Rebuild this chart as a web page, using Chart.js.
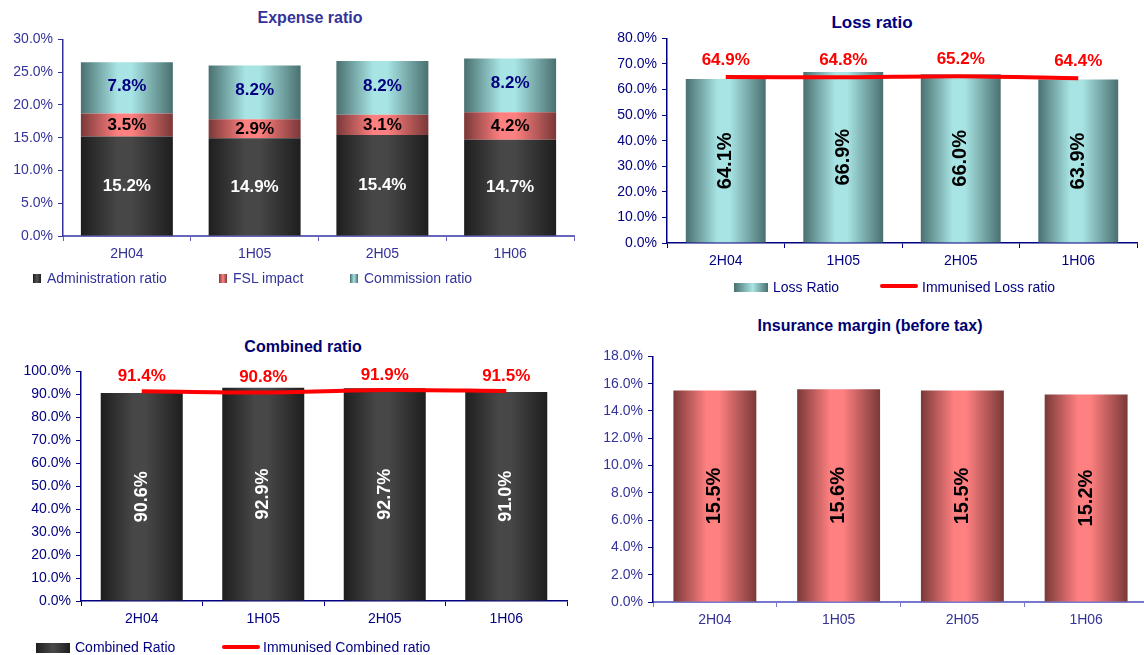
<!DOCTYPE html>
<html>
<head>
<meta charset="utf-8">
<script src="https://cdn.jsdelivr.net/npm/chart.js@4.4.1/dist/chart.umd.min.js"></script>
<style>
  body { margin: 0; width: 1144px; height: 655px; overflow: hidden; background: #fff; position: relative;
         font-family: 'Liberation Sans', Arial, sans-serif; }
  canvas { position: absolute; }
  .title { position: absolute; font-weight: bold; white-space: nowrap; line-height: 1; transform: translate(-50%, -50%); }
  .leg { position: absolute; white-space: nowrap; }
  .sw { position: absolute; }
</style>
</head>
<body>

<div class="title" style="left:310px; top:18px; font-size:16px; color:#333399">Expense ratio</div>
<div class="title" style="left:872px; top:22px; font-size:17px; color:#000080">Loss ratio</div>
<div class="title" style="left:303px; top:347px; font-size:16px; color:#000070">Combined ratio</div>
<div class="title" style="left:870px; top:326px; font-size:16px; color:#000070">Insurance margin (before tax)</div>

<canvas id="expense" width="580" height="250" style="left:0; top:26px"></canvas>
<canvas id="loss" width="564" height="258" style="left:580px; top:25px"></canvas>
<canvas id="combined" width="580" height="283" style="left:0; top:358px"></canvas>
<canvas id="margin" width="568" height="299" style="left:580px; top:343px"></canvas>

<!-- legends -->
<div class="sw" style="left:33px; top:274px; width:8px; height:9px; background:linear-gradient(to right,#1e1e1e,#555,#1e1e1e)"></div>
<div class="leg" style="left:47px; top:270px; font-size:14px; line-height:16px; color:#333399">Administration ratio</div>
<div class="sw" style="left:219px; top:274px; width:8px; height:9px; background:linear-gradient(to right,#7a3a3a,#ff8080,#7a3a3a)"></div>
<div class="leg" style="left:233px; top:270px; font-size:14px; line-height:16px; color:#333399">FSL impact</div>
<div class="sw" style="left:350px; top:274px; width:8px; height:9px; background:linear-gradient(to right,#4a7070,#a8e4e4,#4a7070)"></div>
<div class="leg" style="left:364px; top:270px; font-size:14px; line-height:16px; color:#333399">Commission ratio</div>

<div class="sw" style="left:734px; top:283px; width:34px; height:9px; background:linear-gradient(to right,#4a7070,#a8e4e4 55%,#4a7070)"></div>
<div class="leg" style="left:773px; top:279px; font-size:14px; line-height:16px; color:#000080">Loss Ratio</div>
<div class="sw" style="left:880px; top:284px; width:38px; height:4px; border-radius:2px; background:#ff0000"></div>
<div class="leg" style="left:922px; top:279px; font-size:14px; line-height:16px; color:#000080">Immunised Loss ratio</div>

<div class="sw" style="left:36px; top:643px; width:34px; height:10px; background:linear-gradient(to right,#1e1e1e,#4a4a4a 50%,#1e1e1e)"></div>
<div class="leg" style="left:75px; top:639px; font-size:14px; line-height:16px; color:#000080">Combined Ratio</div>
<div class="sw" style="left:222px; top:645px; width:38px; height:4px; border-radius:2px; background:#ff0000"></div>
<div class="leg" style="left:263px; top:639px; font-size:14px; line-height:16px; color:#000080">Immunised Combined ratio</div>

<script>
const categories = ['2H04', '1H05', '2H05', '1H06'];

const adminRatio = [15.2, 14.9, 15.4, 14.7];
const fslImpact = [3.5, 2.9, 3.1, 4.2];
const commissionRatio = [7.8, 8.2, 8.2, 8.2];

const lossRatio = [64.1, 66.9, 66.0, 63.9];
const immunisedLossRatio = [64.9, 64.8, 65.2, 64.4];

const combinedRatio = [90.6, 92.9, 92.7, 91.0];
const immunisedCombinedRatio = [91.4, 90.8, 91.9, 91.5];

const insuranceMargin = [15.5, 15.6, 15.5, 15.2];

// y tick labels (percent)
const expenseTicks = [0, 5, 10, 15, 20, 25, 30];
const lossTicks = [0, 10, 20, 30, 40, 50, 60, 70, 80];
const combinedTicks = [0, 10, 20, 30, 40, 50, 60, 70, 80, 90, 100];
const marginTicks = [0, 2, 4, 6, 8, 10, 12, 14, 16, 18];

Chart.defaults.font.family = "'Liberation Sans', Arial, sans-serif";
Chart.defaults.animation = false;

// horizontal "cylinder" shading, like the old Excel bars
function cylinder(edge, mid) {
    return function (c) {
        const chart = c.chart;
        const xs = chart.scales.x;
        if (c.type !== 'data' || !xs || !chart.chartArea) return mid;
        const w = xs.width / categories.length * c.dataset.categoryPercentage * c.dataset.barPercentage;
        const cx = xs.getPixelForValue(c.dataIndex);
        const g = chart.ctx.createLinearGradient(cx - w / 2, 0, cx + w / 2, 0);
        g.addColorStop(0, edge);
        g.addColorStop(0.4, mid);
        g.addColorStop(0.55, mid);
        g.addColorStop(1, edge);
        return g;
    };
}

const valueLabels = {
    id: 'valueLabels',
    afterDatasetsDraw(chart) {
        const ctx = chart.ctx;
        chart.data.datasets.forEach((ds, i) => {
            const st = ds.valueLabel;
            if (!st) return;
            const meta = chart.getDatasetMeta(i);
            meta.data.forEach((el, j) => {
                const txt = ds.data[j].toFixed(1) + '%';
                ctx.save();
                ctx.font = st.font;
                ctx.fillStyle = st.color;
                ctx.textAlign = 'center';
                ctx.textBaseline = 'middle';
                if (meta.type === 'line') {
                    ctx.fillText(txt, el.x, el.y + st.dy);
                } else {
                    ctx.translate(el.x, (el.y + el.base) / 2 + (st.dy || 0));
                    if (st.rotate) ctx.rotate(-Math.PI / 2);
                    ctx.fillText(txt, 0, 0);
                }
                ctx.restore();
            });
        });
    }
};

function scales(o) {
    return {
        x: {
            stacked: !!o.stacked,
            grid: { drawOnChartArea: false, drawTicks: true, tickLength: 5, color: o.xAxisColor, offset: true },
            border: { color: o.xAxisColor, width: o.xAxisWidth },
            ticks: { color: o.tickColor, font: { size: 14 }, padding: 5 },
            afterFit: s => { s.height = 40; }
        },
        y: {
            stacked: !!o.stacked,
            min: o.ticks[0],
            max: o.ticks[o.ticks.length - 1],
            afterBuildTicks: s => { s.ticks = o.ticks.map(v => ({ value: v })); },
            grid: { drawOnChartArea: false, drawTicks: true, tickLength: 5, color: o.yAxisColor },
            border: { color: o.yAxisColor, width: 1.5 },
            ticks: { color: o.tickColor, font: { size: 14 }, padding: 5, callback: v => v.toFixed(1) + '%' },
            afterFit: s => { s.width = o.yWidth; }
        }
    };
}

function options(o) {
    return {
        responsive: false,
        events: [],
        layout: { padding: { top: 10, right: o.padRight, bottom: 0, left: 0 } },
        plugins: { legend: { display: false }, title: { display: false }, tooltip: { enabled: false } },
        scales: scales(o)
    };
}

new Chart(document.getElementById('expense'), {
    type: 'bar',
    data: {
        labels: categories,
        datasets: [
            { label: 'Administration ratio', data: adminRatio, backgroundColor: cylinder('#1e1e1e', '#474747'),
              barPercentage: 1, categoryPercentage: 0.72, valueLabel: { font: 'bold 17px Liberation Sans', color: '#ffffff' } },
            { label: 'FSL impact', data: fslImpact, backgroundColor: cylinder('#7a3838', '#ff8080'),
              barPercentage: 1, categoryPercentage: 0.72, valueLabel: { font: 'bold 17px Liberation Sans', color: '#000000' } },
            { label: 'Commission ratio', data: commissionRatio, backgroundColor: cylinder('#4a7070', '#a8e4e4'),
              barPercentage: 1, categoryPercentage: 0.72, valueLabel: { font: 'bold 17px Liberation Sans', color: '#000080', dy: -2 } }
        ]
    },
    options: options({ stacked: true, ticks: expenseTicks, yWidth: 63, padRight: 6,
        tickColor: '#333399', xAxisColor: '#6666bb', xAxisWidth: 2, yAxisColor: '#333399' }),
    plugins: [valueLabels]
});

new Chart(document.getElementById('loss'), {
    data: {
        labels: categories,
        datasets: [
            { type: 'line', label: 'Immunised Loss ratio', data: immunisedLossRatio, order: 0,
              borderColor: '#ff0000', borderWidth: 4, pointRadius: 0, tension: 0.3, fill: false,
              valueLabel: { font: 'bold 17px Liberation Sans', color: '#ff0000', dy: -17 } },
            { type: 'bar', label: 'Loss Ratio', data: lossRatio, order: 1, backgroundColor: cylinder('#4a7070', '#a8e4e4'),
              barPercentage: 1, categoryPercentage: 0.68, valueLabel: { font: 'bold 20px Liberation Sans', color: '#000000', rotate: true } }
        ]
    },
    options: options({ ticks: lossTicks, yWidth: 87, padRight: 7,
        tickColor: '#000080', xAxisColor: '#000080', xAxisWidth: 1.5, yAxisColor: '#000080' }),
    plugins: [valueLabels]
});

new Chart(document.getElementById('combined'), {
    data: {
        labels: categories,
        datasets: [
            { type: 'line', label: 'Immunised Combined ratio', data: immunisedCombinedRatio, order: 0,
              borderColor: '#ff0000', borderWidth: 4, pointRadius: 0, tension: 0.3, fill: false,
              valueLabel: { font: 'bold 17px Liberation Sans', color: '#ff0000', dy: -15 } },
            { type: 'bar', label: 'Combined Ratio', data: combinedRatio, order: 1, backgroundColor: cylinder('#1e1e1e', '#474747'),
              barPercentage: 1, categoryPercentage: 0.675, valueLabel: { font: 'bold 18px Liberation Sans', color: '#ffffff', rotate: true } }
        ]
    },
    options: options({ ticks: combinedTicks, yWidth: 81, padRight: 13,
        tickColor: '#000080', xAxisColor: '#000080', xAxisWidth: 1.5, yAxisColor: '#000080' }),
    plugins: [valueLabels]
});

new Chart(document.getElementById('margin'), {
    type: 'bar',
    data: {
        labels: categories,
        datasets: [
            { label: 'Insurance margin', data: insuranceMargin, backgroundColor: cylinder('#7a3838', '#ff8080'),
              barPercentage: 1, categoryPercentage: 0.67, valueLabel: { font: 'bold 20px Liberation Sans', color: '#000000', rotate: true } }
        ]
    },
    options: options({ ticks: marginTicks, yWidth: 73, padRight: 0,
        tickColor: '#333399', xAxisColor: '#7777cc', xAxisWidth: 2, yAxisColor: '#000080' }),
    plugins: [valueLabels]
});
</script>
</body>
</html>
